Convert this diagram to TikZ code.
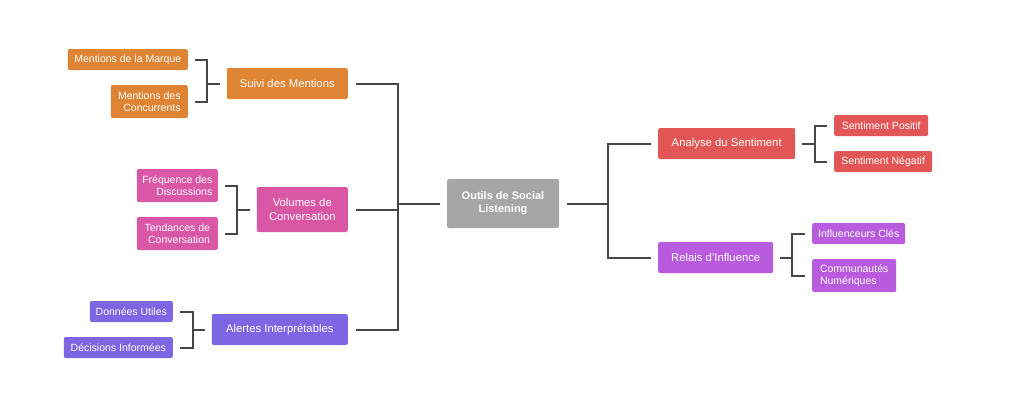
\documentclass[tikz,border=0pt]{standalone}
\usepackage{fontspec}
\setmainfont{Liberation Sans}
\usepackage{xcolor}
\usetikzlibrary{positioning,calc}

\definecolor{rootgray}{HTML}{A6A6A6}
\definecolor{suivicol}{HTML}{DE8433}
\definecolor{volcol}{HTML}{DA57A5}
\definecolor{alertcol}{HTML}{7D66E4}
\definecolor{sentcol}{HTML}{E35656}
\definecolor{relaiscol}{HTML}{B95BDF}
\definecolor{linegray}{HTML}{474747}

\begin{document}
\begin{tikzpicture}[
			x=1pt, y=-1pt,
			box/.style={
					rounded corners=2pt, text=white,
					align=center, inner sep=0pt
				},
			main/.style={box, minimum height=31pt, font=\fontsize{11.3}{13.3}\selectfont},
			leaf/.style={box, minimum height=21pt, font=\fontsize{10.5}{12.3}\selectfont},
			link/.style={draw=linegray, line width=2pt}
		]
		\useasboundingbox (0,0) rectangle (1020,408);

		% Root
		\node[box, fill=rootgray, minimum width=112pt, minimum height=49pt,
			font=\bfseries\fontsize{11}{13.3}\selectfont] (root) at (503,203.5)
		{Outils de Social\\Listening};

		% Left branches
		\node[main, fill=suivicol, minimum width=121pt, anchor=east] (suivi) at (348,83.5) {Suivi des Mentions};
		\node[main, fill=volcol, minimum width=91pt, minimum height=45pt, anchor=east] (volumes) at (348,209.5) {Volumes de\\Conversation};
		\node[main, fill=alertcol, minimum width=136pt, anchor=east] (alertes) at (348,329.5) {Alertes Interprétables};

		% Right branches
		\node[main, fill=sentcol, minimum width=137pt, anchor=west] (analyse) at (658,143.5) {Analyse du Sentiment};
		\node[main, fill=relaiscol, minimum width=115pt, anchor=west] (relais) at (658,257.5) {Relais d'Influence};

		% Leaves: Suivi des Mentions
		\node[leaf, fill=suivicol, minimum width=120pt, anchor=east] (marque) at (188,59.5) {Mentions de la Marque};
		\node[leaf, fill=suivicol, minimum width=77pt, minimum height=33pt, anchor=east, align=right] (concurrents) at (188,101.5) {Mentions des\\Concurrents};

		% Leaves: Volumes de Conversation
		\node[leaf, fill=volcol, minimum width=81pt, minimum height=33pt, anchor=east, align=right] (frequence) at (218,185.5) {Fréquence des\\Discussions};
		\node[leaf, fill=volcol, minimum width=81pt, minimum height=33pt, anchor=east, align=right] (tendances) at (218,233.5) {Tendances de\\Conversation};

		% Leaves: Alertes Interprétables
		\node[leaf, fill=alertcol, minimum width=83pt, anchor=east] (donnees) at (173,311.5) {Données Utiles};
		\node[leaf, fill=alertcol, minimum width=109pt, anchor=east] (decisions) at (173,347.5) {Décisions Informées};

		% Leaves: Analyse du Sentiment
		\node[leaf, fill=sentcol, minimum width=94pt, anchor=west] (positif) at (834,125.5) {Sentiment Positif};
		\node[leaf, fill=sentcol, minimum width=98pt, anchor=west] (negatif) at (834,161.5) {Sentiment Négatif};

		% Leaves: Relais d'Influence
		\node[leaf, fill=relaiscol, minimum width=93pt, anchor=west] (influenceurs) at (812,233.5) {Influenceurs Clés};
		\node[leaf, fill=relaiscol, minimum width=84pt, minimum height=33pt, anchor=west, align=left] (communautes) at (812,275.5) {Communautés\\Numériques};

		% Root -> left branches
		\draw[link] ([xshift=-7pt]root.west) -- ++(-42,0) |- ([xshift=8pt]suivi.east);
		\draw[link] ([xshift=-7pt]root.west) -- ++(-42,0) |- ([xshift=8pt]volumes.east);
		\draw[link] ([xshift=-7pt]root.west) -- ++(-42,0) |- ([xshift=8pt]alertes.east);

		% Root -> right branches
		\draw[link] ([xshift=8pt]root.east) -- ++(41,0) |- ([xshift=-7pt]analyse.west);
		\draw[link] ([xshift=8pt]root.east) -- ++(41,0) |- ([xshift=-7pt]relais.west);

		% Suivi des Mentions -> leaves
		\draw[link] ([xshift=-7pt]suivi.west) -- ++(-13,0) |- ([xshift=7pt]marque.east);
		\draw[link] ([xshift=-7pt]suivi.west) -- ++(-13,0) |- ([xshift=7pt]concurrents.east);

		% Volumes de Conversation -> leaves
		\draw[link] ([xshift=-7pt]volumes.west) -- ++(-13,0) |- ([xshift=7pt]frequence.east);
		\draw[link] ([xshift=-7pt]volumes.west) -- ++(-13,0) |- ([xshift=7pt]tendances.east);

		% Alertes Interprétables -> leaves
		\draw[link] ([xshift=-7pt]alertes.west) -- ++(-12,0) |- ([xshift=7pt]donnees.east);
		\draw[link] ([xshift=-7pt]alertes.west) -- ++(-12,0) |- ([xshift=7pt]decisions.east);

		% Analyse du Sentiment -> leaves
		\draw[link] ([xshift=7pt]analyse.east) -- ++(13,0) |- ([xshift=-7pt]positif.west);
		\draw[link] ([xshift=7pt]analyse.east) -- ++(13,0) |- ([xshift=-7pt]negatif.west);

		% Relais d'Influence -> leaves
		\draw[link] ([xshift=7pt]relais.east) -- ++(12,0) |- ([xshift=-7pt]influenceurs.west);
		\draw[link] ([xshift=7pt]relais.east) -- ++(12,0) |- ([xshift=-7pt]communautes.west);

	\end{tikzpicture}
\end{document}
